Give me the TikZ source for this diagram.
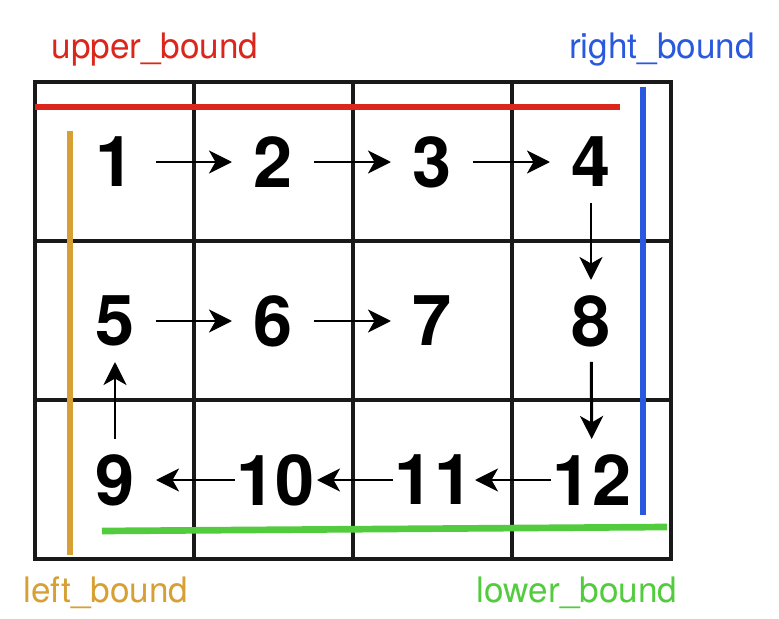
\documentclass[tikz,border=0pt]{standalone}
\usepackage{fontspec}
\setmainfont{TeX Gyre Heros}
\usetikzlibrary{arrows.meta}
\definecolor{upperred}{RGB}{218,38,28}
\definecolor{rightblue}{RGB}{42,88,222}
\definecolor{leftorange}{RGB}{214,160,52}
\definecolor{lowergreen}{RGB}{82,204,62}

\begin{document}
\begin{tikzpicture}[x=0.02cm, y=-0.02cm,
			num/.style    = {inner sep=0pt, font=\bfseries\fontsize{40}{40}\selectfont},
			bound_lbl/.style = {anchor=base, inner sep=0pt, font=\fontsize{20}{24}\selectfont},
			bound/.style  = {line width=3.8pt},
			link/.style   = {line width=1.7pt, -{Stealth[length=0.46cm, width=0.46cm, inset=0.13cm]}, shorten >=0.82cm, shorten <=0.82cm},]
			\useasboundingbox (0,0) rectangle (779,619);

			%% GRID
			\draw[black!90, line width=2.2pt] (35,82) rectangle (671,559);
			\draw[black!90, line width=2.2pt] (194,82) -- (194,559);
			\draw[black!90, line width=2.2pt] (353,82) -- (353,559);
			\draw[black!90, line width=2.2pt] (512,82) -- (512,559);
			\draw[black!90, line width=2.2pt] (35,241) -- (671,241);
			\draw[black!90, line width=2.2pt] (35,400) -- (671,400);

			%% BOUNDS
			\draw[bound, upperred] (35,107) -- (620,107);
			\draw[bound, rightblue] (643,87) -- (643,515);
			\draw[bound, leftorange] (70,131) -- (70,555);
			\draw[bound, lowergreen] (102,531) -- (667,527);
			\node[bound_lbl, upperred] (upper) at (155,58) {upper\_bound};
			\node[bound_lbl, rightblue] (right) at (662,58) {right\_bound};
			\node[bound_lbl, leftorange] (left) at (106,602) {left\_bound};
			\node[bound_lbl, lowergreen] (lower) at (577,602) {lower\_bound};

			%% NUMBERS
			\node[num] (n1) at (115,162) {1};
			\node[num] (n2) at (273,162) {2};
			\node[num] (n3) at (432,162) {3};
			\node[num] (n4) at (591,162) {4};
			\node[num] (n5) at (115,321) {5};
			\node[num] (n6) at (273,321) {6};
			\node[num] (n7) at (432,321) {7};
			\node[num] (n8) at (591,321) {8};
			\node[num] (n9) at (115,480) {9};
			\node[num] (n10) at (276,480) {10};
			\node[num] (n11) at (434,480) {11};
			\node[num] (n12) at (592,480) {12};

			%% SPIRAL ORDER
			\draw[link] (n1.center) -- (n2.center);
			\draw[link] (n2.center) -- (n3.center);
			\draw[link] (n3.center) -- (n4.center);
			\draw[link] (n4.center) -- (n8.center);
			\draw[link] (n8.center) -- (n12.center);
			\draw[link] (n12.center) -- (n11.center);
			\draw[link] (n11.center) -- (n10.center);
			\draw[link] (n10.center) -- (n9.center);
			\draw[link] (n9.center) -- (n5.center);
			\draw[link] (n5.center) -- (n6.center);
			\draw[link] (n6.center) -- (n7.center);
\end{tikzpicture}
\end{document}
